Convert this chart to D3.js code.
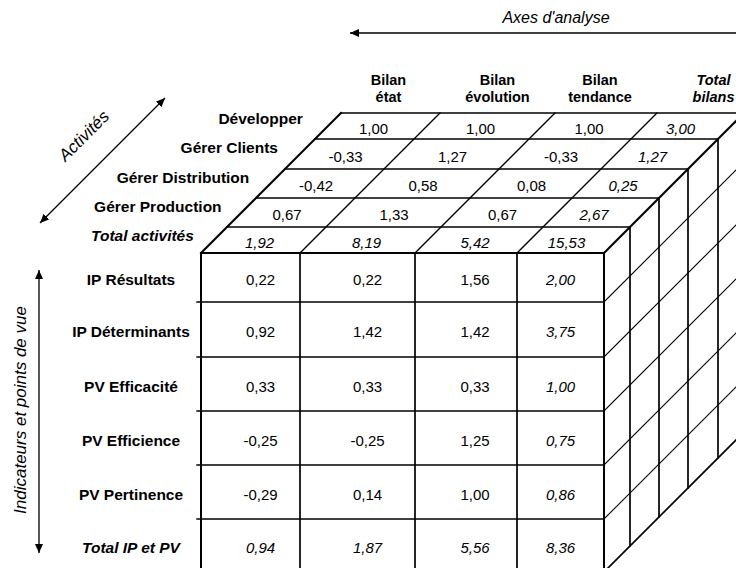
<!DOCTYPE html>
<html><head><meta charset="utf-8">
<script src="https://cdn.jsdelivr.net/npm/d3@7"></script>
<style>html,body{margin:0;padding:0;background:#fff;} svg{display:block;font-family:"Liberation Sans",Arial,sans-serif;}</style>
</head><body><svg id="chart" width="736" height="568"></svg>
<script>
// ---------- data ----------
const headerTop = ["Bilan", "Bilan", "Bilan", "Total"];
const headerBottom = ["état", "évolution", "tendance", "bilans"];
const activities = ["Développer", "Gérer Clients", "Gérer Distribution", "Gérer Production", "Total activités"];
const activityValues = [
  [1.00, 1.00, 1.00, 3.00],
  [-0.33, 1.27, -0.33, 1.27],
  [-0.42, 0.58, 0.08, 0.25],
  [0.67, 1.33, 0.67, 2.67],
  [1.92, 8.19, 5.42, 15.53]
];
const indicators = ["IP Résultats", "IP Déterminants", "PV Efficacité", "PV Efficience", "PV Pertinence", "Total IP et PV"];
const indicatorValues = [
  [0.22, 0.22, 1.56, 2.00],
  [0.92, 1.42, 1.42, 3.75],
  [0.33, 0.33, 0.33, 1.00],
  [-0.25, -0.25, 1.25, 0.75],
  [-0.29, 0.14, 1.00, 0.86],
  [0.94, 1.87, 5.56, 8.36]
];
const axisTitle = "Axes d'analyse";
const activityAxisTitle = "Activités";
const indicatorAxisTitle = "Indicateurs et points de vue";

// ---------- layout ----------
const W = 736, H = 568;
const svg = d3.select("#chart");
const nCols = headerTop.length, nRows = indicators.length, nDepth = activities.length;
const colEdges = [201, 300, 415, 517, 604];
const rowEdges = [253, 302, 357, 411, 465, 519, 572];
const depthEdges = [0, 26, 55, 84, 114, 140];
const frontTextShift = [10, 10, 9, 0];
const headerShift = [-2, 0, -6, 13];

const x = d3.scaleLinear().domain(d3.range(nCols + 1)).range(colEdges);
const y = d3.scaleLinear().domain(d3.range(nRows + 1)).range(rowEdges);
const z = d3.scaleLinear().domain(d3.range(nDepth + 1)).range(depthEdges);
const fmt = d3.formatLocale({decimal: ",", thousands: " ", grouping: [3], currency: ["", ""], minus: "-"}).format(".2f");
const FS = 15;

// markers
const defs = svg.append("defs");
defs.append("marker").attr("id", "arr")
  .attr("viewBox", "0 0 10 10").attr("refX", 10).attr("refY", 5)
  .attr("markerUnits", "userSpaceOnUse").attr("markerWidth", 9).attr("markerHeight", 8)
  .attr("orient", "auto-start-reverse").attr("preserveAspectRatio", "none")
  .append("path").attr("d", "M0,0 L10,5 L0,10 Z").attr("fill", "#000");

// ---------- lines ----------
const segs = [];
const x0 = x(0), x4 = x(nCols), y0 = y(0), y6 = y(nRows), D = z(nDepth);
for (let r = 0; r <= nRows; r++) {
  const inner = r > 0 && r < nRows;
  segs.push({x1: x0 - (inner ? 4 : 0), y1: y(r), x2: x4, y2: y(r), w: r === 0 ? 2 : 1.4});
}
for (let c = 0; c <= nCols; c++) {
  segs.push({x1: x(c), y1: y0, x2: x(c), y2: y6, w: (c === 0 || c === nCols) ? 2 : 1.7});
}
for (let k = 1; k <= nDepth; k++) {
  segs.push({x1: x0 + z(k), y1: y0 - z(k), x2: x4 + z(k), y2: y0 - z(k), w: k === nDepth ? 1.7 : 1.4});
}
for (let c = 0; c <= nCols; c++) {
  segs.push({x1: x(c), y1: y0, x2: x(c) + D, y2: y0 - D, w: (c === 0 || c === nCols) ? 2 : 1.3});
}
for (let k = 1; k <= nDepth; k++) {
  segs.push({x1: x4 + z(k), y1: y0 - z(k), x2: x4 + z(k), y2: y6 - z(k), w: 1.7});
}
for (let r = 1; r <= nRows; r++) {
  segs.push({x1: x4, y1: y(r), x2: x4 + D, y2: y(r) - D, w: r === nRows ? 1.7 : 1.1});
}
svg.append("g").selectAll("line").data(segs).join("line")
  .attr("x1", d => d.x1).attr("y1", d => d.y1).attr("x2", d => d.x2).attr("y2", d => d.y2)
  .attr("stroke", "#000").attr("stroke-width", d => d.w).attr("stroke-linecap", "square");

// ---------- texts ----------
const tg = svg.append("g").attr("font-size", FS).attr("fill", "#000");

tg.selectAll("text.rowlab").data(indicators).join("text").attr("class", "rowlab")
  .attr("x", 131).attr("y", (d, i) => (y(i) + y(i + 1)) / 2 + 2)
  .attr("text-anchor", "middle").attr("dominant-baseline", "central")
  .attr("font-size", 15.5)
  .attr("font-weight", "bold").attr("font-style", (d, i) => i === nRows - 1 ? "italic" : "normal")
  .text(d => d);

const frontCells = [];
indicatorValues.forEach((row, r) => row.forEach((v, c) => frontCells.push({r, c, v})));
tg.selectAll("text.fv").data(frontCells).join("text").attr("class", "fv")
  .attr("x", d => (x(d.c) + x(d.c + 1)) / 2 + frontTextShift[d.c])
  .attr("y", d => (y(d.r) + y(d.r + 1)) / 2 + 2)
  .attr("text-anchor", "middle").attr("dominant-baseline", "central")
  .attr("font-style", d => (d.c === nCols - 1 || d.r === nRows - 1) ? "italic" : "normal")
  .text(d => fmt(d.v));

const topCells = [];
activityValues.forEach((row, a) => row.forEach((v, c) => {
  const i = nDepth - 1 - a;
  const dc = (z(i) + z(i + 1)) / 2;
  topCells.push({a, c, v, dc});
}));
tg.selectAll("text.tv").data(topCells).join("text").attr("class", "tv")
  .attr("x", d => (x(d.c) + x(d.c + 1)) / 2 + d.dc - 4 - (d.c === nCols - 1 ? 3 : 0))
  .attr("y", d => y0 - d.dc + 2)
  .attr("text-anchor", "middle").attr("dominant-baseline", "central")
  .attr("font-style", d => (d.c === nCols - 1 || d.a === nDepth - 1) ? "italic" : "normal")
  .text(d => fmt(d.v));

tg.selectAll("text.alab").data(activities).join("text").attr("class", "alab")
  .attr("x", (d, a) => x0 + 0.956 * z(nDepth - a) - 32)
  .attr("y", (d, a) => y0 - z(nDepth - a) + 8 - (a === 0 ? 3 : 0))
  .attr("text-anchor", "end").attr("dominant-baseline", "central")
  .attr("font-size", 15.5)
  .attr("font-weight", "bold").attr("font-style", (d, a) => a === nDepth - 1 ? "italic" : "normal")
  .text(d => d);

const hdr = tg.selectAll("text.hdr").data(headerTop.map((t, c) => ({t, b: headerBottom[c], c}))).join("text")
  .attr("class", "hdr").attr("text-anchor", "middle").attr("font-weight", "bold")
  .attr("font-size", 14.5)
  .attr("font-style", d => d.c === nCols - 1 ? "italic" : "normal");
hdr.append("tspan").attr("x", d => (x(d.c) + x(d.c + 1)) / 2 + D + headerShift[d.c]).attr("y", y0 - D - 28).text(d => d.t);
hdr.append("tspan").attr("x", d => (x(d.c) + x(d.c + 1)) / 2 + D + headerShift[d.c]).attr("y", y0 - D - 11).text(d => d.b);

// ---------- axis annotations ----------
svg.append("text").attr("x", 556).attr("y", 23).attr("text-anchor", "middle")
  .attr("font-size", 16).attr("font-style", "italic").text(axisTitle);
svg.append("line").attr("x1", W).attr("y1", 33).attr("x2", 350).attr("y2", 33)
  .attr("stroke", "#000").attr("stroke-width", 1.4).attr("marker-end", "url(#arr)");

svg.append("line").attr("x1", 40).attr("y1", 223).attr("x2", 165).attr("y2", 98)
  .attr("stroke", "#000").attr("stroke-width", 1.3)
  .attr("marker-start", "url(#arr)").attr("marker-end", "url(#arr)");
svg.append("text").attr("transform", "translate(84,136) rotate(-45)")
  .attr("text-anchor", "middle").attr("dominant-baseline", "central")
  .attr("font-size", 17).attr("font-style", "italic").text(activityAxisTitle);

svg.append("line").attr("x1", 39).attr("y1", 270).attr("x2", 39).attr("y2", 553)
  .attr("stroke", "#000").attr("stroke-width", 1.3)
  .attr("marker-start", "url(#arr)").attr("marker-end", "url(#arr)");
svg.append("text").attr("transform", "translate(20,410) rotate(-90)")
  .attr("text-anchor", "middle").attr("dominant-baseline", "central")
  .attr("font-size", 17).attr("font-style", "italic").text(indicatorAxisTitle);
</script></body></html>
